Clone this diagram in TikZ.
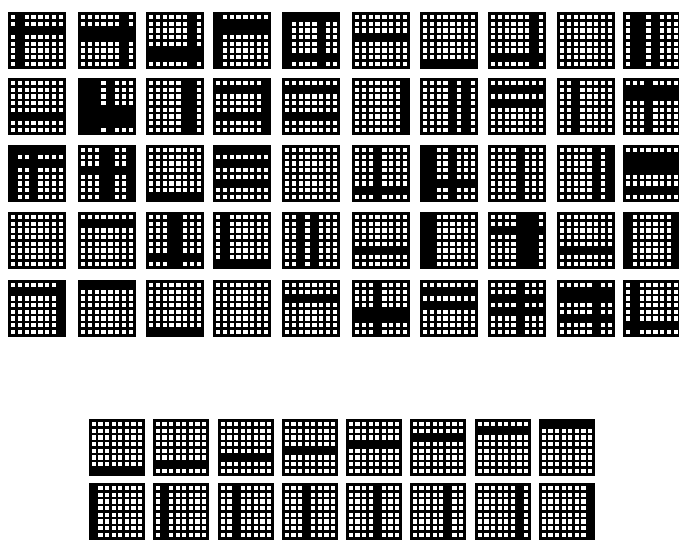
\documentclass[tikz,border=0pt]{standalone}
\begin{document}
\def\bd{1.6}
\def\gp{2.5}
\newcommand\bargrid[6]{%
  \pgfmathsetmacro\cw{(#3-2*\bd)/8}%
  \pgfmathsetmacro\ch{(#4-2*\bd)/8}%
  \begin{scope}[shift={(#1,#2)}]
    \fill[black] (0,0) rectangle (#3,#4);
    \foreach \i in {0,...,7}{\foreach \j in {0,...,7}{%
      \fill[white] ({\bd+\j*\cw+\gp/2},{\bd+\i*\ch+\gp/2}) rectangle ++({\cw-\gp},{\ch-\gp});}}
    \foreach \r in {#5}{\ifnum\r<0\else
      \fill[black] (0,{\bd+\r*\ch}) rectangle (#3,{\bd+(\r+1)*\ch});\fi}
    \foreach \c in {#6}{\ifnum\c<0\else
      \fill[black] ({\bd+\c*\cw},0) rectangle ({\bd+(\c+1)*\cw},#4);\fi}
  \end{scope}}
\newcommand\G[4]{\bargrid{#1}{#2}{58}{57}{#3}{#4}}
\newcommand\B[4]{\bargrid{#1}{#2}{56}{57}{#3}{#4}}
\begin{tikzpicture}[x=1pt,y=-1pt]
\fill[white] (0,0) rectangle (679,540);
\useasboundingbox (0,0) rectangle (679,540);
% row 1
\G{8}{12}{2}{1}
\G{78}{12}{2,3}{6}
\G{146}{12}{5,6}{6}
\G{213}{12}{1,2}{0}
\G{282}{12}{0,6}{0,5}
\G{352}{12}{3}{-1}
\G{420}{12}{7}{-1}
\G{488}{12}{6}{6}
\G{557}{12}{-1}{-1}
\G{623}{12}{-1}{1,2,4}
% row 2
\G{8}{78}{5}{-1}
\G{78}{78}{4,5,6}{0,1,2,4}
\G{146}{78}{-1}{5,6}
\G{213}{78}{1,5}{7}
\G{282}{78}{1,5}{-1}
\G{352}{78}{-1}{7}
\G{420}{78}{-1}{4,6}
\G{488}{78}{1,3}{-1}
\G{557}{78}{-1}{2}
\G{623}{78}{1,2}{3}
% row 3
\G{8}{145}{0,2}{0,3}
\G{78}{145}{3}{3,4,7}
\G{146}{145}{7}{-1}
\G{213}{145}{0,2,5}{-1}
\G{282}{145}{-1}{-1}
\G{352}{145}{6}{3}
\G{420}{145}{5}{0,1,4}
\G{488}{145}{-1}{4}
\G{557}{145}{-1}{5,7}
\G{623}{145}{1,2,3,6}{-1}
% row 4
\G{8}{212}{-1}{-1}
\G{78}{212}{1}{-1}
\G{146}{212}{6}{3,4}
\G{213}{212}{7}{1}
\G{282}{212}{-1}{2,4}
\G{352}{212}{5}{-1}
\G{420}{212}{-1}{0,1}
\G{488}{212}{2}{4,5,6}
\G{557}{212}{5}{-1}
\G{623}{212}{-1}{0,7}
% row 5
\G{8}{280}{1}{7}
\G{78}{280}{0}{-1}
\G{146}{280}{7}{-1}
\G{213}{280}{-1}{-1}
\G{282}{280}{2}{-1}
\G{352}{280}{4,5}{3}
\G{420}{280}{1,3}{-1}
\G{488}{280}{2,4}{4}
\G{557}{280}{1,2,5}{5}
\G{623}{280}{6}{1}
% bottom
\B{89}{419}{7}{-1}
\B{153}{419}{6}{-1}
\B{218}{419}{5}{-1}
\B{282}{419}{4}{-1}
\B{346}{419}{3}{-1}
\B{410}{419}{2}{-1}
\B{475}{419}{1}{-1}
\B{539}{419}{0}{-1}
\B{89}{483}{-1}{0}
\B{153}{483}{-1}{1}
\B{218}{483}{-1}{2}
\B{282}{483}{-1}{3}
\B{346}{483}{-1}{4}
\B{410}{483}{-1}{5}
\B{475}{483}{-1}{6}
\B{539}{483}{-1}{7}
\end{tikzpicture}
\end{document}
